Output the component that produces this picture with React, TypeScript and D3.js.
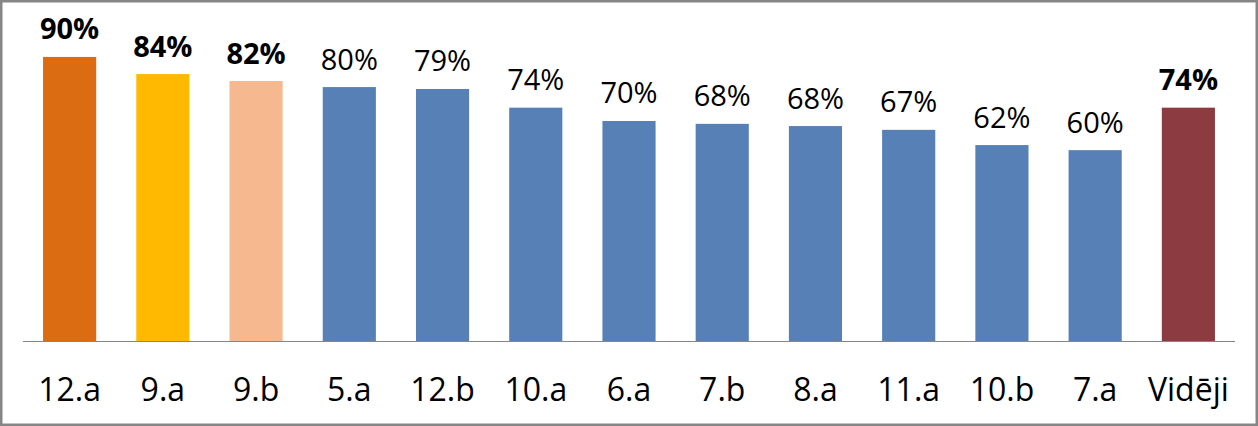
import React from "react";
import * as d3 from "d3";

const categories = ["12.a", "9.a", "9.b", "5.a", "12.b", "10.a", "6.a", "7.b", "8.a", "11.a", "10.b", "7.a", "Vidēji"];
const values = [89.7, 84.3, 82.1, 80.2, 79.6, 73.7, 69.5, 68.6, 67.9, 66.7, 61.9, 60.3, 73.7];
const labels = ["90%", "84%", "82%", "80%", "79%", "74%", "70%", "68%", "68%", "67%", "62%", "60%", "74%"];
const colors = ["#DB6C11", "#FFB900", "#F6B98F", "#5680B6", "#5680B6", "#5680B6", "#5680B6", "#5680B6", "#5680B6", "#5680B6", "#5680B6", "#5680B6", "#8C3C40"];
const boldLabels = [true, true, true, false, false, false, false, false, false, false, false, false, true];

const W = 1258;
const H = 426;

export default function App() {
  const x = d3.scaleBand<string>().domain(categories).range([23, 1235]).paddingInner(0.43).paddingOuter(0.215);
  const y = d3.scaleLinear().domain([0, 100]).range([341.3, 24.3]);
  const font = "'Open Sans', 'Noto Sans', sans-serif";
  return (
    <svg width={W} height={H} style={{ position: "absolute", left: 0, top: 0, background: "#fff" }}>
      <rect x={1.25} y={1.25} width={W - 2.5} height={H - 2.5} fill="#fff" stroke="#868686" strokeWidth={2.5} />
      {categories.map((c, i) => (
        <g key={c}>
          <rect x={x(c)} y={y(values[i])} width={x.bandwidth()} height={y(0) - y(values[i])} fill={colors[i]} />
          <text
            x={(x(c) as number) + x.bandwidth() / 2}
            y={y(values[i]) - 17.5}
            textAnchor="middle"
            fontFamily={font}
            fontSize={29}
            fontWeight={boldLabels[i] ? 700 : 400}
            fill="#000"
          >
            {labels[i]}
          </text>
          <text
            x={(x(c) as number) + x.bandwidth() / 2}
            y={401}
            textAnchor="middle"
            fontFamily={font}
            fontSize={32}
            fill="#000"
          >
            {c}
          </text>
        </g>
      ))}
      <line x1={23} x2={1235} y1={341.5} y2={341.5} stroke="#868686" strokeWidth={1} />
    </svg>
  );
}
